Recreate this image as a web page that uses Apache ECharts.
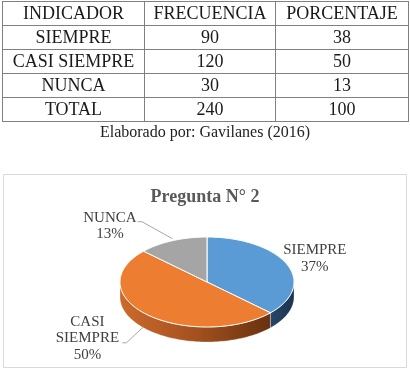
<!DOCTYPE html>
<html>
<head>
<meta charset="utf-8">
<script src="https://cdn.jsdelivr.net/npm/echarts@6/dist/echarts.min.js"></script>
<style>
  html, body { margin: 0; padding: 0; background: #fff; }
  #main { position: absolute; left: 0; top: 0; width: 410px; height: 375px; }
  #tabla {
    position: absolute; left: 2px; top: 1px; width: 406px;
    border-collapse: collapse; table-layout: fixed;
    font-family: "Liberation Serif", serif; font-size: 18px; color: #1a1a1a;
  }
  #tabla td {
    border: 1px solid #808080; height: 23px; padding: 0;
    text-align: center; line-height: 23px; white-space: nowrap;
  }
  #fuente {
    position: absolute; left: 0; top: 123px; width: 410px; text-align: center;
    font-family: "Liberation Serif", serif; font-size: 16px; color: #222;
  }
</style>
</head>
<body>
<div id="main"></div>
<table id="tabla">
  <colgroup><col style="width:142px"><col style="width:131px"><col style="width:133px"></colgroup>
  <tbody></tbody>
</table>
<div id="fuente"></div>

<script>
// datos de la tabla
const encabezados = ["INDICADOR", "FRECUENCIA", "PORCENTAJE"];
const categorias = ["SIEMPRE", "CASI SIEMPRE", "NUNCA"];
const frecuencias = [90, 120, 30];
const porcentajes = [38, 50, 13];
const totales = ["TOTAL", 240, 100];
const fuente = "Elaborado por: Gavilanes (2016)";

// datos del grafico
const titulo = "Pregunta N° 2";
const etiquetasGrafico = ["SIEMPRE", "CASI\nSIEMPRE", "NUNCA"];
const valoresGrafico = [37, 50, 13];

// tabla
const tbody = document.querySelector("#tabla tbody");
function fila(celdas) {
  const tr = document.createElement("tr");
  celdas.forEach(c => {
    const td = document.createElement("td");
    td.textContent = c;
    tr.appendChild(td);
  });
  tbody.appendChild(tr);
}
fila(encabezados);
categorias.forEach((c, i) => fila([c, frecuencias[i], porcentajes[i]]));
fila(totales);
document.getElementById("fuente").textContent = fuente;

// grafico
const colores = ["#5B9BD5", "#ED7D31", "#A5A5A5"];
const coloresLado = [
  ["#264769", "#1c344d"],
  ["#cc6a2c", "#a4511f", "#68310f"],
  ["#8a8a8a", "#6a6a6a"]
];
const pie = { cx: 207, cy: 282, rx: 87, ry: 45, depth: 15 };
// posicion de etiquetas respecto al punto medio de cada porcion
const posEtiquetas = [
  { dx: 28, dy: -5.5, linea: null },
  { dx: -60, dy: 23.5, linea: [35, 4.5], lado: true },
  { dx: -62.5, dy: -14.5, linea: [28, -4.5] }
];

const suma = valoresGrafico.reduce((a, b) => a + b, 0);

function punto(ang, dy) {
  const r = ang * Math.PI / 180;
  return [pie.cx + pie.rx * Math.sin(r), pie.cy - pie.ry * Math.cos(r) + (dy || 0)];
}
function arco(a1, a2, dy) {
  const pts = [];
  const n = Math.max(2, Math.ceil((a2 - a1) / 1.5));
  for (let k = 0; k <= n; k++) pts.push(punto(a1 + (a2 - a1) * k / n, dy));
  return pts;
}
function angulos(i, valor) {
  let antes = 0;
  for (let k = 0; k < i; k++) antes += valoresGrafico[k];
  return [antes / suma * 360, (antes + valor) / suma * 360];
}

let myChart = echarts.init(document.getElementById("main"));

let option = {
  animation: false,
  title: {
    text: titulo,
    left: "center",
    top: 188,
    padding: 0,
    textStyle: {
      fontFamily: "Liberation Serif",
      fontWeight: "bold",
      fontSize: 18,
      color: "#595959"
    }
  },
  graphic: [
    {
      type: "rect",
      z: -10,
      shape: { x: 3.5, y: 174.5, width: 403, height: 193 },
      style: { fill: "none", stroke: "#d9d9d9", lineWidth: 1 }
    }
  ],
  series: [
    {
      name: "lados",
      type: "custom",
      coordinateSystem: "none",
      z: 1,
      data: valoresGrafico.map(v => [v]),
      renderItem: function(params, api) {
        const i = params.dataIndex;
        const [a1, a2] = angulos(i, api.value(0));
        const s = Math.max(a1, 90), e = Math.min(a2, 270);
        if (e <= s) return { type: "group", children: [] };
        const pts = arco(s, e, 0).concat(arco(s, e, pie.depth).reverse());
        const paradas = coloresLado[i].map((c, k, arr) => ({ offset: k / (arr.length - 1), color: c }));
        return {
          type: "polygon",
          shape: { points: pts },
          style: {
            fill: new echarts.graphic.LinearGradient(0, 0, 1, 0, paradas),
            stroke: "rgba(255,255,255,0.5)",
            lineWidth: 0.6
          }
        };
      }
    },
    {
      name: "porciones",
      type: "custom",
      coordinateSystem: "none",
      z: 2,
      data: valoresGrafico.map(v => [v]),
      renderItem: function(params, api) {
        const i = params.dataIndex;
        const valor = api.value(0);
        const [a1, a2] = angulos(i, valor);
        const pts = [[pie.cx, pie.cy]].concat(arco(a1, a2, 0));
        const medio = (a1 + a2) / 2;
        const p = punto(medio, 0);
        const pos = posEtiquetas[i];
        const lx = p[0] + pos.dx, ly = p[1] + pos.dy;
        const hijos = [
          {
            type: "polygon",
            shape: { points: pts },
            style: { fill: colores[i], stroke: "#ffffff", lineWidth: 1 }
          },
          {
            type: "text",
            z2: 10,
            style: {
              text: etiquetasGrafico[i] + "\n" + Math.round(valor / suma * 100) + "%",
              x: lx,
              y: ly,
              align: "center",
              verticalAlign: "middle",
              lineHeight: 16.5,
              font: "15px 'Liberation Serif'",
              fill: "#404040"
            }
          }
        ];
        if (pos.linea) {
          const ini = pos.lado ? [p[0] - 4, p[1] + 12] : [p[0], p[1] - 2];
          const fin = [lx + pos.linea[0], ly + pos.linea[1]];
          const codo = [fin[0] + 4, fin[1]];
          hijos.push({
            type: "polyline",
            z2: 10,
            shape: { points: [ini, codo, fin] },
            style: { stroke: "#a6a6a6", lineWidth: 1, fill: null }
          });
        }
        return { type: "group", children: hijos };
      }
    }
  ]
};
myChart.setOption(option);
window.addEventListener("resize", () => myChart.resize(), false);
</script>
</body>
</html>
